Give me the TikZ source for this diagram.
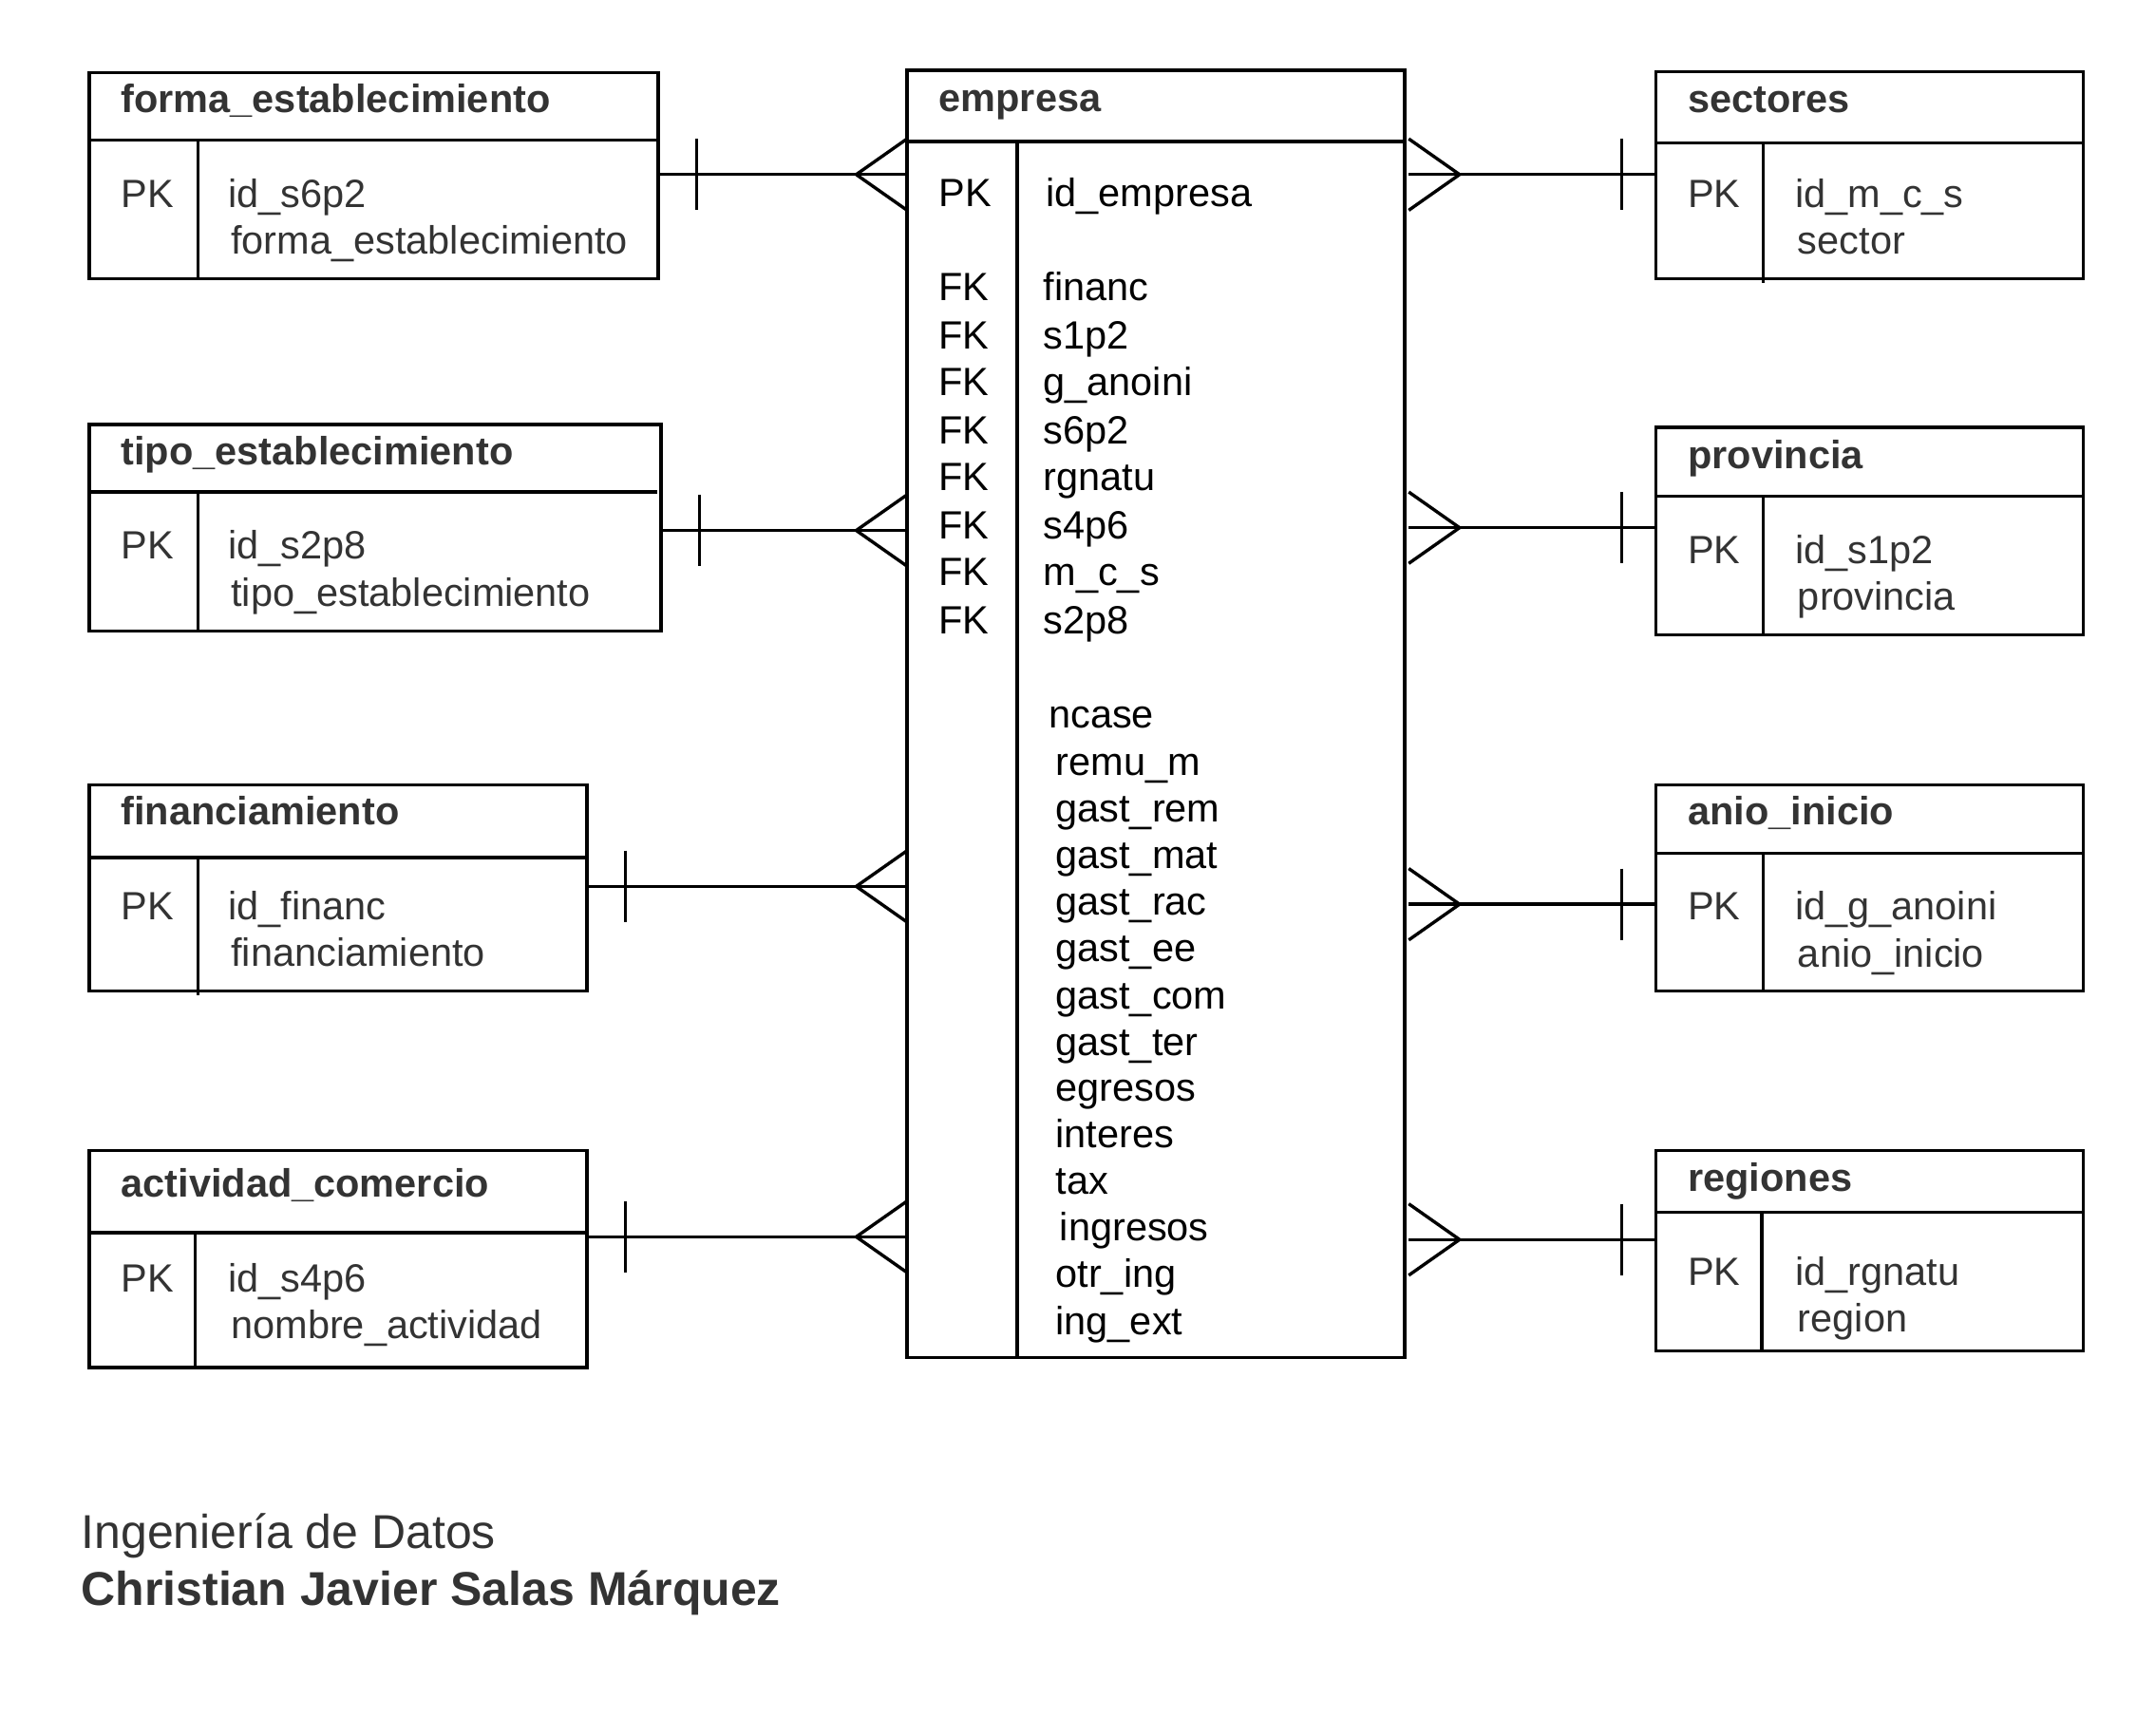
\documentclass[tikz,border=0pt]{standalone}
\usepackage{fontspec}
\setmainfont{Liberation Sans}
\usetikzlibrary{fit,calc}
\definecolor{ink}{HTML}{333333}
\begin{document}
\begin{tikzpicture}[x=1.447pt,y=-1.447pt,
  frame/.style={draw=black,line width=3.4pt,inner sep=0pt,outer sep=0pt},
  rule/.style={draw=black,line width=3.4pt},
  link/.style={draw=black,line width=3.4pt},
  head/.style={anchor=base west,inner sep=0pt,text=ink,font=\fontsize{41.5}{49}\selectfont\bfseries},
  cell/.style={anchor=base west,inner sep=0pt,text=ink,font=\fontsize{41.5}{49}\selectfont},
  cellk/.style={cell,text=black},
  foot/.style={anchor=base west,inner sep=0pt,text=ink,font=\fontsize{50}{60}\selectfont},
  bar/.pic={\draw[link] (0,-26) -- (0,26);},
  crowL/.pic={\draw[link] (-37,0) -- (0,-26) (-37,0) -- (0,26);},
  crowR/.pic={\draw[link] (40,0) -- (3,-26) (40,0) -- (3,26);}
]
\useasboundingbox (0,0) rectangle (1568,1263);

% ---------- left entities ----------
\node[frame,fit={(65,53) (479,203)}] (forma) {};
\draw[rule] (65,102) -- (479,102) (144,102) -- (144,203);
\node[head] (formaH) at (88,82) {forma\_establecimiento};
\node[cell] (formaK) at (88,151) {PK};
\node[cell] (formaA) at (166,151) {id\_s6p2};
\node[cell] (formaB) at (168,185) {forma\_establecimiento};

\node[frame,fit={(65,309) (481,459)}] (tipo) {};
\draw[rule] (65,358) -- (478,358) (144,358) -- (144,459);
\node[head] (tipoH) at (88,338) {tipo\_establecimiento};
\node[cell] (tipoK) at (88,407) {PK};
\node[cell] (tipoA) at (166,407) {id\_s2p8};
\node[cell] (tipoB) at (168,441) {tipo\_establecimiento};

\node[frame,fit={(65,571) (427,721)}] (financ) {};
\draw[rule] (65,624) -- (427,624) (144,624) -- (144,724);
\node[head] (financH) at (88,600) {financiamiento};
\node[cell] (financK) at (88,669) {PK};
\node[cell] (financA) at (166,669) {id\_financ};
\node[cell] (financB) at (168,703) {financiamiento};

\node[frame,fit={(65,837) (427,995)}] (activ) {};
\draw[rule] (65,897) -- (427,897) (142,897) -- (142,995);
\node[head] (activH) at (88,871) {actividad\_comercio};
\node[cell] (activK) at (88,940) {PK};
\node[cell] (activA) at (166,940) {id\_s4p6};
\node[cell] (activB) at (168,974) {nombre\_actividad};

% ---------- central entity ----------
\node[frame,fit={(660,51) (1022,988)}] (empresa) {};
\draw[rule] (660,103) -- (1022,103) (740,103) -- (740,988);
\node[head] (empH) at (683,81) {empresa};
\node[cellk] (empK) at (683,150) {PK};
\node[cellk] (empA) at (761,150) {id\_empresa};
\foreach \y/\t [count=\i] in {219/financ,254/s1p2,288/g\_anoini,323/s6p2,357/rgnatu,392/s4p6,426/m\_c\_s,461/s2p8}{
  \node[cellk] (fkK\i) at (683,\y) {FK};
  \node[cellk] (fkA\i) at (759,\y) {\t};
}
\foreach \x/\y/\t [count=\i] in {763/530/ncase,768/564/remu\_m,768/598/gast\_rem,768/632/gast\_mat,
  768/666/gast\_rac,768/700/gast\_ee,768/734/gast\_com,768/768/gast\_ter,768/801/egresos,
  768/835/interes,768/869/tax,771/903/ingresos,768/937/otr\_ing,768/971/ing\_ext}{
  \node[cellk] (at\i) at (\x,\y) {\t};
}

% ---------- right entities ----------
\node[frame,fit={(1205,52) (1516,203)}] (sect) {};
\draw[rule] (1205,104) -- (1516,104) (1283,104) -- (1283,206);
\node[head] (sectH) at (1228,82) {sectores};
\node[cell] (sectK) at (1228,151) {PK};
\node[cell] (sectA) at (1306,151) {id\_m\_c\_s};
\node[cell] (sectB) at (1308,185) {sector};

\node[frame,fit={(1205,311) (1516,462)}] (prov) {};
\draw[rule] (1205,361) -- (1516,361) (1283,361) -- (1283,462);
\node[head] (provH) at (1228,341) {provincia};
\node[cell] (provK) at (1228,410) {PK};
\node[cell] (provA) at (1306,410) {id\_s1p2};
\node[cell] (provB) at (1308,444) {provincia};

\node[frame,fit={(1205,571) (1516,721)}] (anio) {};
\draw[rule] (1205,621) -- (1516,621) (1283,621) -- (1283,721);
\node[head] (anioH) at (1228,600) {anio\_inicio};
\node[cell] (anioK) at (1228,669) {PK};
\node[cell] (anioA) at (1306,669) {id\_g\_anoini};
\node[cell] (anioB) at (1308,704) {anio\_inicio};

\node[frame,fit={(1205,837) (1516,983)}] (reg) {};
\draw[rule] (1205,882) -- (1516,882) (1282,882) -- (1282,983);
\node[head] (regH) at (1228,867) {regiones};
\node[cell] (regK) at (1228,935) {PK};
\node[cell] (regA) at (1306,935) {id\_rgnatu};
\node[cell] (regB) at (1308,969) {region};

% ---------- relationship rows ----------
\coordinate (l1) at (0,127);
\coordinate (l2) at (0,386);
\coordinate (l3) at (0,645);
\coordinate (l4) at (0,900);
\coordinate (r1) at (0,127);
\coordinate (r2) at (0,384);
\coordinate (r3) at (0,658);
\coordinate (r4) at (0,902);

% one (left entity) to many (empresa)
\foreach \n/\c in {forma/l1,tipo/l2,financ/l3,activ/l4}{
  \draw[link] (\n.east |- \c) -- (empresa.west |- \c);
  \pic at ($(\n.east |- \c)+(28,0)$) {bar};
  \pic at (empresa.west |- \c) {crowL};
}
% many (empresa) to one (right entity)
\foreach \n/\c in {sect/r1,prov/r2,anio/r3,reg/r4}{
  \draw[link] ($(empresa.east |- \c)+(3,0)$) -- (\n.west |- \c);
  \pic at ($(\n.west |- \c)+(-25,0)$) {bar};
  \pic at (empresa.east |- \c) {crowR};
}

% ---------- credits ----------
\node[foot] (title) at (59,1127) {Ingeniería de Datos};
\node[foot,font=\fontsize{50}{60}\selectfont\bfseries] (author) at (59,1168) {Christian Javier Salas Márquez};
\end{tikzpicture}
\end{document}
